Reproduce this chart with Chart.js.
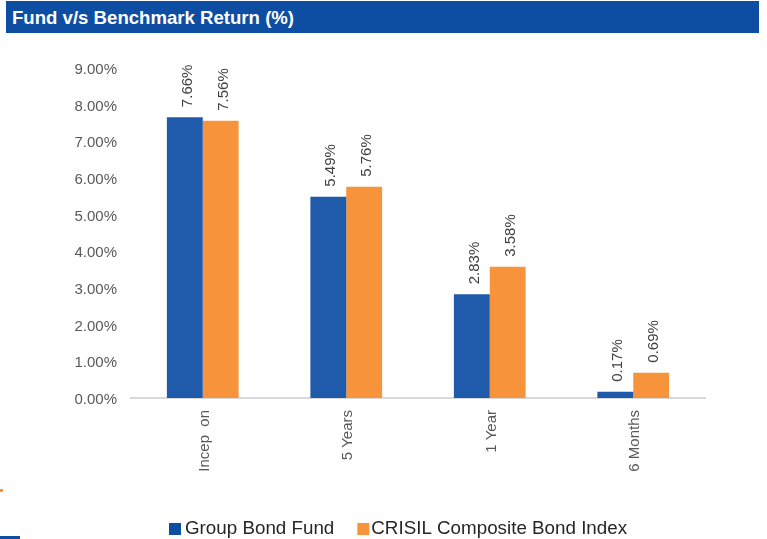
<!DOCTYPE html>
<html>
<head>
<meta charset="utf-8">
<script src="https://cdn.jsdelivr.net/npm/chart.js@4/dist/chart.umd.min.js"></script>
<style>
  html, body { margin: 0; padding: 0; background: #ffffff; overflow: hidden; width: 767px; height: 539px; }
  #title { position: absolute; left: 6px; top: 1px; width: 753px; height: 32px; background: #0d4ea2; color: #ffffff;
    font-family: "Liberation Sans", Arial, sans-serif; font-weight: bold; font-size: 18.6px; line-height: 33px; padding-left: 6px; box-sizing: border-box; z-index: 2; }
  #wrap { position: absolute; left: 0; top: 0; width: 767px; height: 539px; }
  #mark1 { position: absolute; left: 0; top: 489px; width: 3px; height: 3px; background: #f7943b; }
  #mark2 { position: absolute; left: 0; top: 536px; width: 20px; height: 3px; background: #0d4ea2; }
</style>
</head>
<body>
<div id="title">Fund v/s Benchmark Return (%)</div>
<div id="wrap"><canvas id="c"></canvas></div>
<div id="mark1"></div>
<div id="mark2"></div>
<script>
const categories = ["Incep  on", "5 Years", "1 Year", "6 Months"];
const fundValues = [7.66, 5.49, 2.83, 0.17];
const benchmarkValues = [7.56, 5.76, 3.58, 0.69];
const seriesNames = ["Group Bond Fund", "CRISIL Composite Bond Index"];
const yTicks = [0, 1, 2, 3, 4, 5, 6, 7, 8, 9];

const FONT = '"Liberation Sans", Arial, sans-serif';

const valueLabels = {
  id: 'valueLabels',
  afterDatasetsDraw(chart) {
    const ctx = chart.ctx;
    ctx.save();
    ctx.font = '15px ' + FONT;
    ctx.fillStyle = '#404040';
    ctx.textAlign = 'left';
    ctx.textBaseline = 'middle';
    chart.data.datasets.forEach((ds, di) => {
      const meta = chart.getDatasetMeta(di);
      meta.data.forEach((bar, i) => {
        const v = ds.data[i];
        ctx.save();
        ctx.translate(bar.x + 3, bar.y - 10);
        ctx.rotate(-Math.PI / 2);
        ctx.fillText(v.toFixed(2) + '%', 0, 0);
        ctx.restore();
      });
    });
    ctx.restore();
  }
};

// Legend drawn from the dataset labels/colours, laid out like the reference
const customLegend = {
  id: 'customLegend',
  afterDraw(chart) {
    const ctx = chart.ctx;
    ctx.save();
    ctx.font = '18.8px ' + FONT;
    ctx.textBaseline = 'alphabetic';
    ctx.textAlign = 'left';
    const baseline = 534;
    const gapsAfterBox = [4, 2];
    let x = 169;
    chart.data.datasets.forEach((ds, i) => {
      ctx.fillStyle = i === 0 ? '#0d4ea2' : ds.backgroundColor;
      ctx.fillRect(x, baseline - 11, 12, 12);
      x += 12 + gapsAfterBox[i];
      ctx.fillStyle = '#262626';
      ctx.fillText(ds.label, x, baseline);
      x += ctx.measureText(ds.label).width + 23;
    });
    ctx.restore();
  }
};

new Chart(document.getElementById('c'), {
  type: 'bar',
  data: {
    labels: categories,
    datasets: [
      { label: seriesNames[0], data: fundValues, backgroundColor: '#1f5baa', borderWidth: 0 },
      { label: seriesNames[1], data: benchmarkValues, backgroundColor: '#f7943b', borderWidth: 0 }
    ]
  },
  options: {
    responsive: true,
    maintainAspectRatio: false,
    animation: false,
    layout: { padding: { left: 0, right: 62, top: 68, bottom: 26 } },
    datasets: { bar: { categoryPercentage: 0.5, barPercentage: 1.0 } },
    plugins: {
      legend: { display: false },
      tooltip: { enabled: false }
    },
    scales: {
      x: {
        grid: { display: false, drawTicks: false },
        border: { display: true, color: '#d9d9d9', width: 2 },
        ticks: { color: '#595959', font: { family: FONT, size: 15 }, minRotation: 90, maxRotation: 90, padding: 12, labelOffset: 2 },
        afterFit(s) { s.height = 115; }
      },
      y: {
        min: 0, max: 9,
        afterBuildTicks(s) { s.ticks = yTicks.map(v => ({ value: v })); },
        grid: { display: false, drawTicks: false },
        border: { display: false },
        ticks: { color: '#595959', font: { family: FONT, size: 15 }, padding: 14, labelOffset: 2,
          callback: v => v.toFixed(2) + '%' },
        afterFit(s) { s.width = 131; }
      }
    }
  },
  plugins: [valueLabels, customLegend]
});
</script>
</body>
</html>
